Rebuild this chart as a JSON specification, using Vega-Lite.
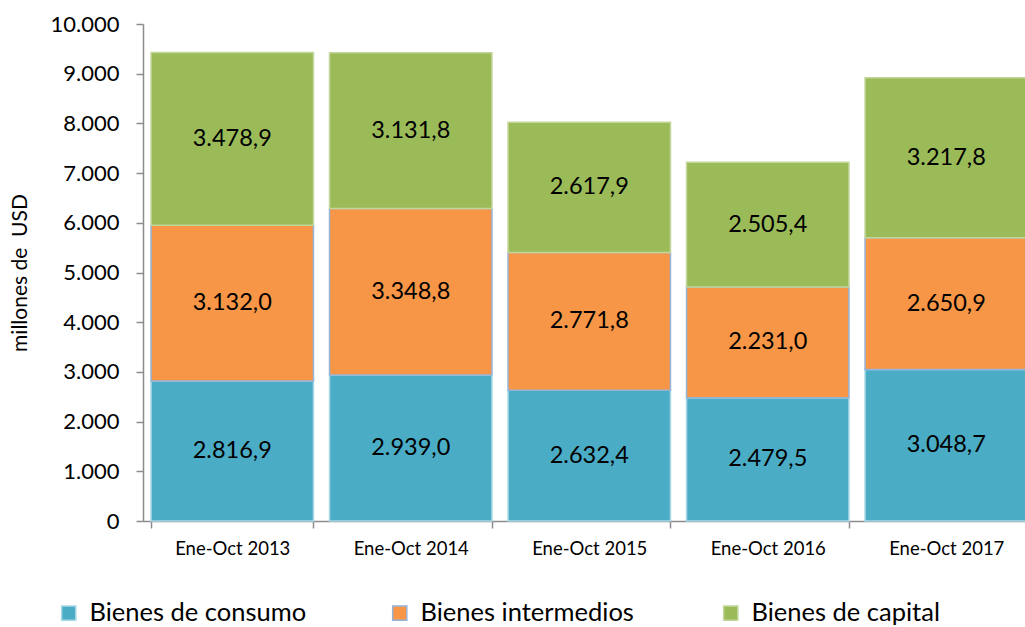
{
  "$schema": "https://vega.github.io/schema/vega-lite/v6.json",
  "autosize": {"type": "none"},
  "width": 882,
  "height": 497,
  "padding": {"left": 143, "top": 24, "right": 0, "bottom": 106},
  "background": "white",
  "config": {
    "locale": {"number": {"decimal": ",", "thousands": ".", "grouping": [3], "currency": ["", ""]}},
    "font": "Lato",
    "view": {"stroke": null}
  },
  "data": {
    "values": [
      {"periodo": "Ene-Oct 2013", "serie": "Bienes de consumo", "orden": 1, "valor": 2816.9},
      {"periodo": "Ene-Oct 2013", "serie": "Bienes intermedios", "orden": 2, "valor": 3132.0},
      {"periodo": "Ene-Oct 2013", "serie": "Bienes de capital", "orden": 3, "valor": 3478.9},
      {"periodo": "Ene-Oct 2014", "serie": "Bienes de consumo", "orden": 1, "valor": 2939.0},
      {"periodo": "Ene-Oct 2014", "serie": "Bienes intermedios", "orden": 2, "valor": 3348.8},
      {"periodo": "Ene-Oct 2014", "serie": "Bienes de capital", "orden": 3, "valor": 3131.8},
      {"periodo": "Ene-Oct 2015", "serie": "Bienes de consumo", "orden": 1, "valor": 2632.4},
      {"periodo": "Ene-Oct 2015", "serie": "Bienes intermedios", "orden": 2, "valor": 2771.8},
      {"periodo": "Ene-Oct 2015", "serie": "Bienes de capital", "orden": 3, "valor": 2617.9},
      {"periodo": "Ene-Oct 2016", "serie": "Bienes de consumo", "orden": 1, "valor": 2479.5},
      {"periodo": "Ene-Oct 2016", "serie": "Bienes intermedios", "orden": 2, "valor": 2231.0},
      {"periodo": "Ene-Oct 2016", "serie": "Bienes de capital", "orden": 3, "valor": 2505.4},
      {"periodo": "Ene-Oct 2017", "serie": "Bienes de consumo", "orden": 1, "valor": 3048.7},
      {"periodo": "Ene-Oct 2017", "serie": "Bienes intermedios", "orden": 2, "valor": 2650.9},
      {"periodo": "Ene-Oct 2017", "serie": "Bienes de capital", "orden": 3, "valor": 3217.8}
    ]
  },
  "encoding": {
    "x": {
      "field": "periodo", "type": "nominal", "sort": null,
      "scale": {"range": [0, 892.5], "paddingInner": 0.09, "paddingOuter": 0.045},
      "axis": {
        "title": null, "labelAngle": 0, "labelFontSize": 18.5, "labelColor": "black",
        "domainColor": "#8c8c8c", "domainWidth": 1.5, "tickColor": "#8c8c8c", "tickWidth": 1.5,
        "tickSize": 7, "tickBand": "extent", "labelPadding": 11
      }
    }
  },
  "layer": [
    {
      "mark": {"type": "bar", "strokeWidth": 1.5},
      "encoding": {
        "y": {
          "field": "valor", "type": "quantitative", "stack": "zero",
          "scale": {"domain": [0, 10000], "nice": false},
          "axis": {
            "title": "millones de\u00a0 USD", "titleFontSize": 21, "titleFontWeight": "normal",
            "titleColor": "black", "titlePadding": 20,
            "values": [0, 1000, 2000, 3000, 4000, 5000, 6000, 7000, 8000, 9000, 10000],
            "format": ",d", "labelFontSize": 22, "labelColor": "black", "labelPadding": 17,
            "grid": false, "domainColor": "#8c8c8c", "domainWidth": 1.5,
            "tickColor": "#8c8c8c", "tickWidth": 1.5, "tickSize": 7
          }
        },
        "order": {"field": "orden", "type": "quantitative"},
        "fill": {
          "field": "serie", "type": "nominal",
          "scale": {"domain": ["Bienes de consumo", "Bienes intermedios", "Bienes de capital"],
                    "range": ["#4bacc6", "#f79646", "#9bbb59"]},
          "legend": {
            "title": null, "orient": "none", "legendX": -87, "legendY": 576,
            "direction": "horizontal", "columns": 3, "gridAlign": "all",
            "symbolType": "square", "symbolSize": 200, "labelFontSize": 25.5,
            "labelColor": "black", "labelOffset": 8, "columnPadding": 80, "labelLimit": 400
          }
        },
        "stroke": {
          "field": "serie", "type": "nominal",
          "scale": {"domain": ["Bienes de consumo", "Bienes intermedios", "Bienes de capital"],
                    "range": ["#a9d8e5", "#95b3d7", "#c3d69b"]},
          "legend": null
        }
      }
    },
    {
      "transform": [
        {"stack": "valor", "groupby": ["periodo"], "sort": [{"field": "orden"}], "as": ["y0", "y1"]},
        {"calculate": "(datum.y0 + datum.y1) / 2", "as": "ymid"}
      ],
      "mark": {"type": "text", "fontSize": 23.5, "color": "black", "baseline": "middle", "align": "center"},
      "encoding": {
        "y": {"field": "ymid", "type": "quantitative"},
        "text": {"field": "valor", "type": "quantitative", "format": ",.1f"}
      }
    }
  ]
}
